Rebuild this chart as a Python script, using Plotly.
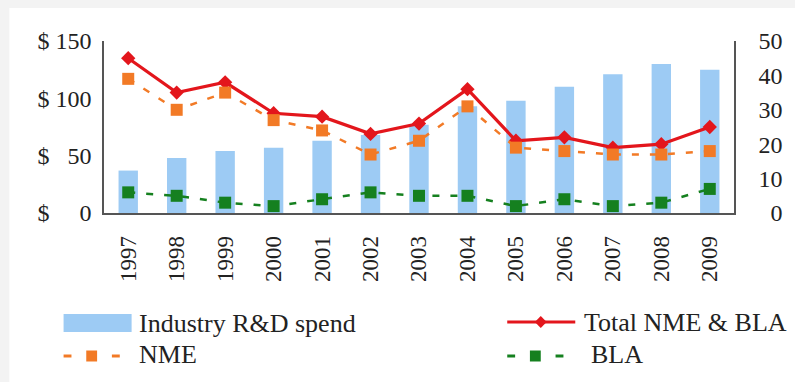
import plotly.graph_objects as go

# Approval counts and R&D spend by year
years = ["1997", "1998", "1999", "2000", "2001", "2002", "2003",
         "2004", "2005", "2006", "2007", "2008", "2009"]
rd_spend = [37, 48, 54, 57, 63, 68, 77, 93, 98, 110, 121, 130, 125]   # $ billions (left axis)
total_nme_bla = [45, 35, 38, 29, 28, 23, 26, 36, 21, 22, 19, 20, 25]  # right axis
nme = [39, 30, 35, 27, 24, 17, 21, 31, 19, 18, 17, 17, 18]
bla = [6, 5, 3, 2, 4, 6, 5, 5, 2, 4, 2, 3, 7]

left_ticks = [0, 50, 100, 150]
left_ticktext = ["$ \u2007\u20070", "$ \u200750", "$ 100", "$ 150"]
right_ticks = [0, 10, 20, 30, 40, 50]
right_ticktext = ["\u20070", "10", "20", "30", "40", "50"]

BLUE = "#9dcbf4"
RED = "#e3161c"
ORANGE = "#f27a26"
GREEN = "#15801f"
FONT = "Liberation Serif"
TXT = "#222222"
AXC = "#555555"

W, H = 795, 382
ML, MR, MT, MB = 104, 52, 41, 169
PW, PH = W - ML - MR, H - MT - MB


def px(x):
    return (x - ML) / PW


def py(y):
    return (H - MB - y) / PH


fig = go.Figure()

fig.add_trace(go.Bar(x=years, y=rd_spend, marker=dict(color=BLUE, line=dict(width=0)),
                     width=0.4, name="Industry R&D spend", showlegend=False))
fig.add_trace(go.Scatter(x=years, y=total_nme_bla, yaxis="y2", mode="lines+markers",
                         line=dict(color=RED, width=3.2),
                         marker=dict(symbol="diamond", size=11, color=RED),
                         name="Total NME & BLA", showlegend=False))
fig.add_trace(go.Scatter(x=years, y=nme, yaxis="y2", mode="lines+markers",
                         line=dict(color=ORANGE, width=2.5, dash="7px,11px"),
                         marker=dict(symbol="square", size=12, color=ORANGE),
                         name="NME", showlegend=False))
fig.add_trace(go.Scatter(x=years, y=bla, yaxis="y2", mode="lines+markers",
                         line=dict(color=GREEN, width=2.5, dash="7px,11px"),
                         marker=dict(symbol="square", size=12, color=GREEN),
                         name="BLA", showlegend=False))

shapes = [
    # page frame
    dict(type="rect", xref="paper", yref="paper", layer="below",
         x0=px(8), x1=px(W + 10), y0=py(H + 10), y1=py(8),
         fillcolor="white", line=dict(width=0)),
    # legend: R&D spend swatch
    dict(type="rect", xref="paper", yref="paper",
         x0=px(63), x1=px(132), y0=py(332), y1=py(314),
         fillcolor=BLUE, line=dict(width=0)),
    # legend: total line
    dict(type="line", xref="paper", yref="paper",
         x0=px(513), x1=px(582), y0=py(322), y1=py(322),
         line=dict(color=RED, width=3)),
    dict(type="path", xref="paper", yref="paper",
         path=f"M {px(547)} {py(316)} L {px(553)} {py(322)} L {px(547)} {py(328)} L {px(541)} {py(322)} Z",
         fillcolor=RED, line=dict(width=0)),
]

# legend: dashed entries with a square marker in the middle
for x0, y0, col in [(63, 356, ORANGE), (513, 356, GREEN)]:
    for a, b in [(x0, x0 + 8), (x0 + 49, x0 + 57)]:
        shapes.append(dict(type="line", xref="paper", yref="paper",
                           x0=px(a), x1=px(b), y0=py(y0), y1=py(y0),
                           line=dict(color=col, width=3)))
    shapes.append(dict(type="rect", xref="paper", yref="paper",
                       x0=px(x0 + 23), x1=px(x0 + 34), y0=py(y0 + 5.5), y1=py(y0 - 5.5),
                       fillcolor=col, line=dict(width=0)))

annotations = []
for text, x, y in [("Industry R&D spend", 137, 323), ("NME", 137, 354),
                   ("Total NME & BLA", 589, 322), ("BLA", 596, 354)]:
    annotations.append(dict(text=text, xref="paper", yref="paper", x=px(x), y=py(y),
                            xanchor="left", yanchor="middle", showarrow=False,
                            font=dict(family=FONT, size=26, color=TXT)))

fig.update_layout(
    width=W, height=H,
    margin=dict(l=ML, r=MR, t=MT, b=MB, pad=0),
    paper_bgcolor="#f3f3f3",
    plot_bgcolor="white",
    showlegend=False,
    bargap=0.6,
    shapes=shapes,
    annotations=annotations,
    font=dict(family=FONT, color=TXT),
    xaxis=dict(type="category", range=[-0.5, 12.5], showgrid=False, zeroline=False,
               showline=True, linecolor=AXC, linewidth=1.5, ticks="",
               tickangle=-90, tickfont=dict(family=FONT, size=23, color=TXT),
               ticklabelstandoff=12),
    yaxis=dict(range=[0, 150], tickvals=left_ticks, ticktext=left_ticktext,
               showgrid=False, zeroline=False, showline=True, linecolor=AXC,
               linewidth=1.5, ticks="", tickfont=dict(family=FONT, size=24, color=TXT),
               ticklabelstandoff=6),
    yaxis2=dict(range=[0, 50], tickvals=right_ticks, ticktext=right_ticktext,
                overlaying="y", side="right", showgrid=False, zeroline=False,
                showline=True, linecolor=AXC, linewidth=1.5, ticks="",
                tickfont=dict(family=FONT, size=24, color=TXT), ticklabelstandoff=18),
)

fig.write_html("out.html")
